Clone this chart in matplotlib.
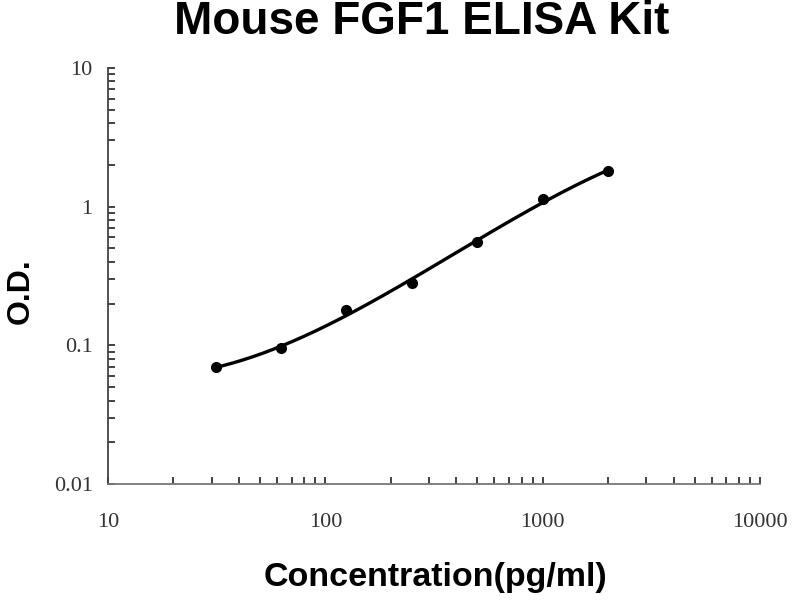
import matplotlib
matplotlib.use("Agg")
import matplotlib.pyplot as plt
import numpy as np
from matplotlib.ticker import LogLocator, FixedFormatter, FixedLocator

# standard curve points
conc = [31.25, 62.5, 125, 250, 500, 1000, 2000]
od = [0.0695, 0.095, 0.18, 0.28, 0.56, 1.13, 1.8]

x_ticks = [10, 100, 1000, 10000]
x_labels = ["10", "100", "1000", "10000"]
y_ticks = [0.01, 0.1, 1, 10]
y_labels = ["0.01", "0.1", "1", "10"]

# smooth trend through the points (cubic in log-log space)
lx = np.log10(conc)
ly = np.log10(od)
coef = np.polyfit(lx, ly, 3)
fx = np.linspace(lx[0], lx[-1], 200)
fy = np.polyval(coef, fx)

fig = plt.figure(figsize=(8, 6), dpi=100)
ax = fig.add_axes([0.135, 0.1933, 0.815, 0.6934])

ax.plot(10 ** fx, 10 ** fy, color="black", lw=2.4, solid_capstyle="round")
ax.plot(conc, od, "o", color="black", ms=7)

ax.set_xscale("log")
ax.set_yscale("log")
ax.set_xlim(10, 10000)
ax.set_ylim(0.01, 10)

ax.xaxis.set_major_locator(FixedLocator(x_ticks))
ax.xaxis.set_major_formatter(FixedFormatter(x_labels))
ax.yaxis.set_major_locator(FixedLocator(y_ticks))
ax.yaxis.set_major_formatter(FixedFormatter(y_labels))
ax.xaxis.set_minor_locator(LogLocator(base=10, subs=np.arange(2, 10)))
ax.yaxis.set_minor_locator(LogLocator(base=10, subs=np.arange(2, 10)))
ax.xaxis.set_minor_formatter(FixedFormatter([]))
ax.yaxis.set_minor_formatter(FixedFormatter([]))

ax.tick_params(which="both", direction="in", length=5, width=1.2, color="#222222")
ax.tick_params(axis="x", which="major", pad=21)
ax.tick_params(axis="y", which="major", pad=11)
for lab in ax.get_xticklabels() + ax.get_yticklabels():
    lab.set_fontfamily("Liberation Serif")
    lab.set_fontsize(16)
    lab.set_color("#333333")

for s in ["top", "right"]:
    ax.spines[s].set_visible(False)
ax.spines["left"].set_color("#444444")
ax.spines["bottom"].set_color("#777777")
ax.spines["left"].set_linewidth(1.3)
ax.spines["bottom"].set_linewidth(1.3)

fig.text(0.5265, 0.963, "Mouse FGF1 ELISA Kit", ha="center", va="center",
         fontfamily="Liberation Sans", fontweight="bold", fontsize=33)
fig.text(0.544, 0.037, "Concentration(pg/ml)", ha="center", va="center",
         fontfamily="Liberation Sans", fontweight="bold", fontsize=24.5)
fig.text(0.026, 0.515, "O.D.", ha="center", va="center", rotation=90,
         fontfamily="Liberation Sans", fontweight="bold", fontsize=23)

fig.savefig("out.png", dpi=100)
